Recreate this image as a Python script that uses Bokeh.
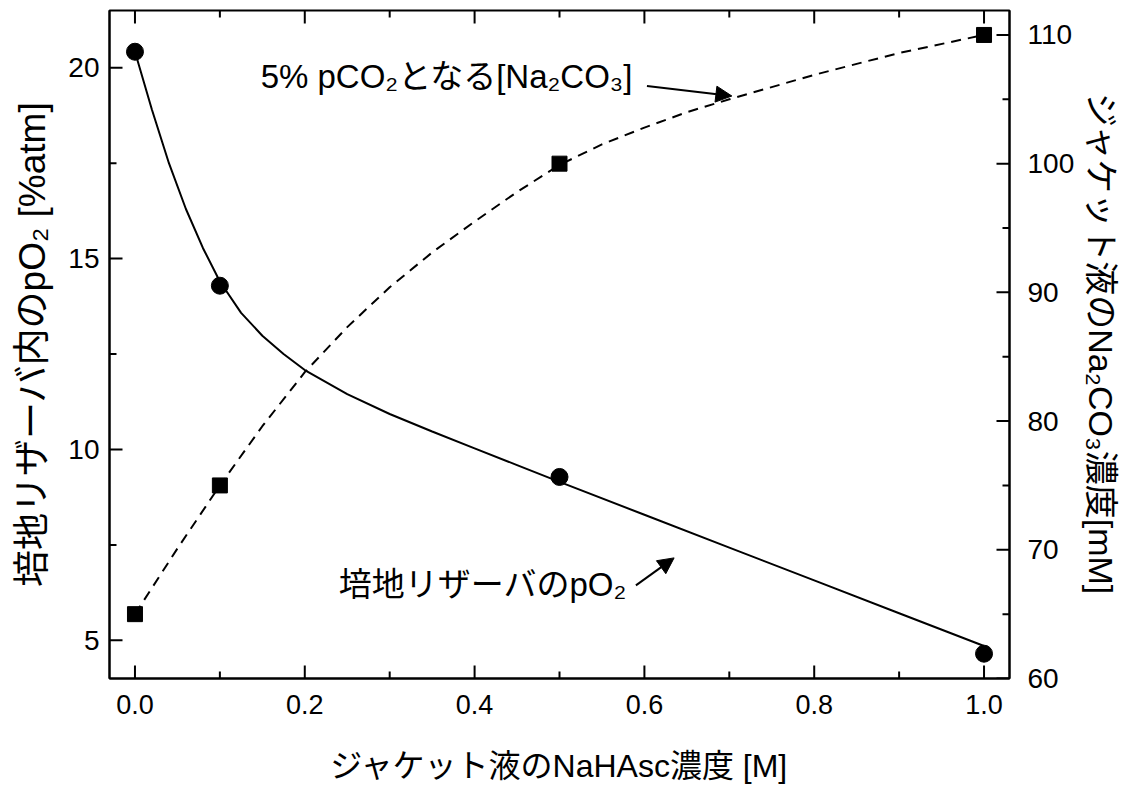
from bokeh.plotting import figure
from bokeh.models import (Range1d, LinearAxis, SingleIntervalTicker, Arrow, NormalHead,
                          Label, NumeralTickFormatter)
from bokeh.embed import file_html
from bokeh.resources import INLINE

# ---- data ----
nahasc_M = [0.0, 0.1, 0.5, 1.0]
po2_pct = [20.42, 14.29, 9.28, 4.65]
na2co3_mM = [65.0, 75.0, 100.0, 110.0]

# fitted curves
po2_fit_x = [0.0, 0.02, 0.04, 0.06, 0.08, 0.1, 0.125, 0.15, 0.175, 0.2, 0.25, 0.3,
             0.35, 0.4, 0.45, 0.5, 0.6, 0.7, 0.8, 0.9, 1.0]
po2_fit_y = [20.42, 18.90, 17.50, 16.30, 15.28, 14.40, 13.58, 12.98, 12.50, 12.08, 11.45,
             10.93, 10.47, 10.03, 9.59, 9.15, 8.29, 7.43, 6.57, 5.71, 4.85]
na2co3_fit_x = [0.0, 0.05, 0.1, 0.15, 0.2, 0.25, 0.3, 0.35, 0.4, 0.45, 0.5, 0.55, 0.6,
                0.65, 0.7, 0.8, 0.9, 1.0]
na2co3_fit_y = [65.0, 70.1, 75.0, 79.6, 83.8, 87.3, 90.4, 93.1, 95.5, 97.8, 99.9, 101.5,
                102.8, 104.0, 105.0, 106.9, 108.6, 110.0]

# tick values
x_major = [0.0, 0.2, 0.4, 0.6, 0.8, 1.0]
x_minor = [0.1, 0.3, 0.5, 0.7, 0.9]
yl_major = [5, 10, 15, 20]
yl_minor = [7.5, 12.5, 17.5]
yr_major = [60, 70, 80, 90, 100, 110]
yr_minor = [65, 75, 85, 95, 105]

x_title = "ジャケット液のNaHAsc濃度 [M]"
y_title = "培地リザーバ内のpO₂ [%atm]"
y2_title = "ジャケット液のNa₂CO₃濃度[mM]"
note_co2 = "5% pCO₂となる[Na₂CO₃]"
note_o2 = "培地リザーバのpO₂"

FONT = "'Liberation Sans', 'Noto Sans CJK JP', sans-serif"

W, H = 1129, 788
BL, BR, BT, BB = 109, 120, 10, 110
FW, FH = W - BL - BR, H - BT - BB

xr = Range1d(-0.03, 1.03)
ylr = Range1d(4.0, 21.5)
yrr = Range1d(60, 111.9)

p = figure(width=W, height=H, x_range=xr, y_range=ylr,
           output_backend="svg", toolbar_location=None,
           min_border_left=BL, min_border_right=BR, min_border_top=BT, min_border_bottom=BB)
p.extra_y_ranges = {"r": yrr}
p.xgrid.visible = False
p.ygrid.visible = False
p.outline_line_color = "black"
p.outline_line_width = 2
p.background_fill_color = "white"
p.border_fill_color = "white"


def style(ax, interval, tick_fs, title_fs):
    ax.ticker = SingleIntervalTicker(interval=interval, num_minor_ticks=2)
    ax.major_tick_in = 0
    ax.major_tick_out = 0
    ax.minor_tick_in = 0
    ax.minor_tick_out = 0
    ax.axis_line_width = 2
    ax.major_label_text_font = FONT
    ax.major_label_text_font_size = tick_fs
    ax.major_label_text_color = "black"
    ax.major_label_standoff = 11
    ax.axis_label_text_font = FONT
    ax.axis_label_text_font_style = "normal"
    ax.axis_label_text_font_size = title_fs
    ax.axis_label_text_color = "black"


xb = p.xaxis[0]
style(xb, 0.2, "27px", "32px")
xb.formatter = NumeralTickFormatter(format="0.0")
xb.axis_label = x_title
xb.major_label_standoff = 16
xb.axis_label_standoff = 31

yl = p.yaxis[0]
style(yl, 5, "28px", "37px")
yl.formatter = NumeralTickFormatter(format="0")
yl.axis_label = y_title
yl.major_label_standoff = 10
yl.axis_label_standoff = 12

yr = LinearAxis(y_range_name="r")
style(yr, 10, "28px", "34px")
yr.formatter = NumeralTickFormatter(format="0")
yr.axis_label = y2_title
yr.major_label_standoff = 18
yr.axis_label_standoff = 5
p.add_layout(yr, "right")

# inward ticks on all four sides, lengths converted from pixels via the frame scale
MAJ, MIN = 13, 7
sx = (xr.end - xr.start) / FW
syl = (ylr.end - ylr.start) / FH
TK = dict(line_color="black", line_width=2)
for vals, ln in ((x_major, MAJ), (x_minor, MIN)):
    n = len(vals)
    p.segment(x0=vals, y0=[ylr.start] * n, x1=vals, y1=[ylr.start + ln * syl] * n, **TK)
    p.segment(x0=vals, y0=[ylr.end] * n, x1=vals, y1=[ylr.end - ln * syl] * n, **TK)
for vals, ln in ((yl_major, MAJ), (yl_minor, MIN)):
    n = len(vals)
    p.segment(x0=[xr.start] * n, y0=vals, x1=[xr.start + ln * sx] * n, y1=vals, **TK)
for vals, ln in ((yr_major, MAJ), (yr_minor, MIN)):
    n = len(vals)
    p.segment(x0=[xr.end] * n, y0=vals, x1=[xr.end - ln * sx] * n, y1=vals,
              y_range_name="r", **TK)

# curves
p.line(po2_fit_x, po2_fit_y, line_color="black", line_width=2)
p.line(na2co3_fit_x, na2co3_fit_y, y_range_name="r", line_color="black", line_width=2,
       line_dash="10 7")

# points
p.scatter(nahasc_M, po2_pct, marker="circle", size=17, fill_color="black", line_color="black")
p.scatter(nahasc_M, na2co3_mM, marker="square", size=15, fill_color="black",
          line_color="black", y_range_name="r")

# annotations
p.add_layout(Label(x=0.148, y=19.76, text=note_co2, text_font=FONT, text_font_size="33px",
                   text_baseline="middle", text_align="left", text_color="black"))
p.add_layout(Label(x=0.240, y=6.47, text=note_o2, text_font=FONT, text_font_size="33px",
                   text_baseline="middle", text_align="left", text_color="black"))

p.add_layout(Arrow(end=NormalHead(size=16, fill_color="black", line_color="black"),
                   x_start=0.603, y_start=19.52, x_end=0.703, y_end=19.26,
                   line_color="black", line_width=2))
p.add_layout(Arrow(end=NormalHead(size=16, fill_color="black", line_color="black"),
                   x_start=0.590, y_start=6.44, x_end=0.635, y_end=7.16,
                   line_color="black", line_width=2))

open("out.html", "w").write(file_html(p, INLINE))
